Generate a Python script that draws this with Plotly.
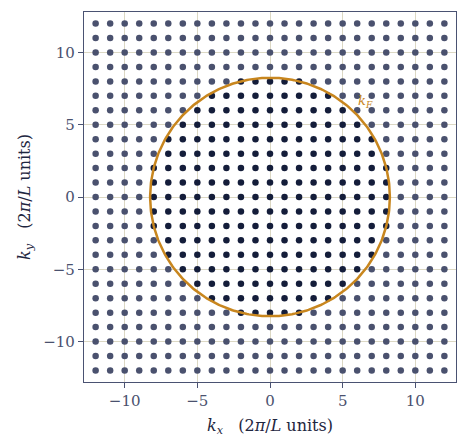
import numpy as np
import plotly.graph_objects as go

# Data
n_max = 12
k_fermi = 8.25
tick_vals = [-10, -5, 0, 5, 10]
tick_text = ["\u221210", "\u22125", "0", "5", "10"]

ns = np.arange(-n_max, n_max + 1)
KX, KY = np.meshgrid(ns, ns)
kx = KX.ravel()
ky = KY.ravel()
inside = kx**2 + ky**2 <= k_fermi**2

dark_in = "#141d3a"
dot_out = "#4a516e"
gold = "#c8861e"
frame = "#4a5272"

fig = go.Figure()
fig.add_trace(go.Scatter(x=kx[~inside], y=ky[~inside], mode="markers",
                         marker=dict(size=6.5, color=dot_out), hoverinfo="skip"))
fig.add_trace(go.Scatter(x=kx[inside], y=ky[inside], mode="markers",
                         marker=dict(size=6.5, color=dark_in), hoverinfo="skip"))
theta = np.linspace(0, 2 * np.pi, 400)
fig.add_trace(go.Scatter(x=k_fermi * np.cos(theta), y=k_fermi * np.sin(theta),
                         mode="lines", line=dict(color=gold, width=2.5),
                         hoverinfo="skip"))

fig.add_annotation(x=6.6, y=6.6,
                   text="<i>k</i><sub><i>F</i></sub>", showarrow=False,
                   font=dict(color=gold, size=13, family="DejaVu Serif"))

axis_common = dict(
    range=[-12.8, 12.8], tickvals=tick_vals, ticktext=tick_text,
    showgrid=True, gridcolor="#dcd8c4", gridwidth=1, zeroline=False,
    showline=True, linecolor=frame, linewidth=1.3, mirror=True,
    ticks="outside", ticklen=5, tickcolor=frame, automargin=False,
    tickfont=dict(size=15, color="#4a516e", family="DejaVu Serif"),
)

fig.update_layout(
    width=467, height=447,
    margin=dict(l=84, r=11, t=12, b=65, autoexpand=False),
    paper_bgcolor="white", plot_bgcolor="white",
    showlegend=False,
    font=dict(family="DejaVu Serif", color="#1e2640"),
    xaxis=dict(**axis_common,
               title=dict(text="<i>k</i><sub><i>x</i></sub>   (2<i>π</i>/<i>L</i> units)",
                          font=dict(size=16, color="#1e2640"), standoff=10)),
    yaxis=dict(**axis_common,
               title=dict(text="<i>k</i><sub><i>y</i></sub>   (2<i>π</i>/<i>L</i> units)",
                          font=dict(size=16, color="#1e2640"), standoff=8)),
)

fig.write_html("out.html", config={"displayModeBar": False},
               post_script="document.body.style.margin='0';document.body.style.overflow='hidden';")
